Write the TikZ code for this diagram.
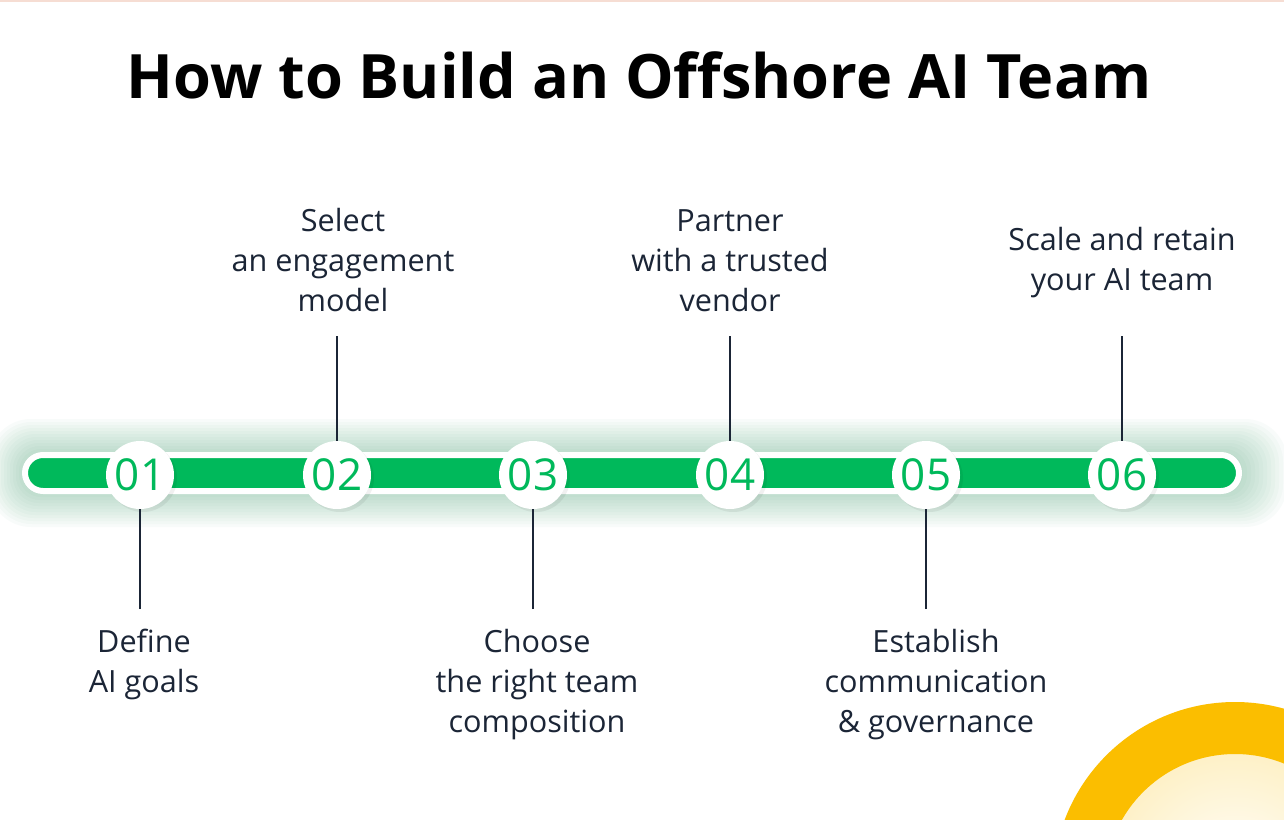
\documentclass[tikz,border=0pt]{standalone}
\usepackage{fontspec}
\setmainfont{Open Sans}
\usepackage{xcolor}
\usetikzlibrary{positioning}
\definecolor{barGreen}{HTML}{00B95B}
\definecolor{glowGreen}{HTML}{5FAF86}
\definecolor{inkDark}{HTML}{1B2536}
\definecolor{sunYellow}{HTML}{FBBE00}
\definecolor{topLine}{HTML}{F6DDD3}

\begin{document}
\begin{tikzpicture}[x=0.5pt,y=-0.5pt,node distance=0pt,
stepnum/.style={circle,fill=white,minimum size=34pt,inner sep=0pt,text=barGreen,font=\fontsize{22}{22}\selectfont},
steplabel/.style={align=center,text=inkDark,inner sep=0pt,font=\fontsize{15.3}{20}\selectfont},
tick/.style={draw=inkDark,line width=1pt}]
\useasboundingbox (0,0) rectangle (1284,819);
\fill[white] (0,0) rectangle (1284,819);
\fill[topLine] (0,0) rectangle (1284,2);
% title
\node[font=\bfseries\fontsize{30.6}{31}\selectfont,text=black] (title) at (639,75) {How to Build an Offshore AI Team};
% soft glow behind the bar
\foreach \g in {1,...,12}
  \fill[glowGreen,opacity=0.04,rounded corners=9pt+1pt*\g] (25-3*\g,455-3*\g) rectangle (1239+4*\g,491+3*\g);
% bar
\draw[white,line width=3pt,fill=barGreen,rounded corners=9pt] (25,455) rectangle (1239,491);
% steps
\foreach \i/\x in {1/140,2/337,3/533,4/730,5/926,6/1122}{
  \fill[black,opacity=0.06] (\x+3,478) circle (34);
  \node[stepnum] (n\i) at (\x,475) {0\i};
}
\coordinate (t2) at (337,336);
\coordinate (t4) at (730,336);
\coordinate (t6) at (1122,336);
\coordinate (b1) at (140,609);
\coordinate (b3) at (533,609);
\coordinate (b5) at (926,609);
\draw[tick] (t2)--(n2);\draw[tick] (t4)--(n4);\draw[tick] (t6)--(n6);
\draw[tick] (b1)--(n1);\draw[tick] (b3)--(n3);\draw[tick] (b5)--(n5);
% labels
\node[steplabel,above=12pt of t2,xshift=3pt] (l2) {Select\\an engagement\\model};
\node[steplabel,above=12pt of t4] (l4) {Partner\\with a trusted\\vendor};
\node[steplabel,above=19pt of t6] (l6) {Scale and retain\\your AI team};
\node[steplabel,below=10pt of b1,xshift=2pt] (l1) {Define\\AI goals};
\node[steplabel,below=10pt of b3,xshift=2pt] (l3) {Choose\\the right team\\composition};
\node[steplabel,below=10pt of b5,xshift=5pt] (l5) {Establish\\communication\\\& governance};
% yellow ring in the corner
\shade[inner color=white,outer color=sunYellow!22] (1235,884) circle (131);
\fill[sunYellow,even odd rule] (1235,884) circle (182) (1235,884) circle (130);
\end{tikzpicture}
\end{document}
